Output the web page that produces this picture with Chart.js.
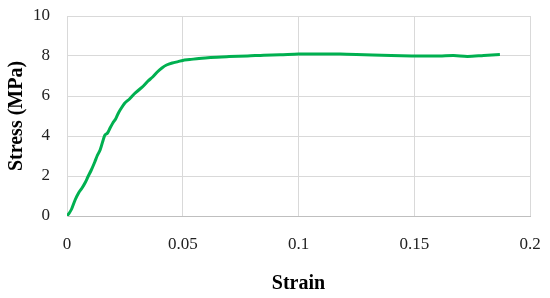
<!DOCTYPE html>
<html>
<head>
<meta charset="utf-8">
<script src="https://cdn.jsdelivr.net/npm/chart.js@4/dist/chart.umd.min.js"></script>
<style>
html,body{margin:0;padding:0;background:#fff;}
#wrap{width:550px;height:298px;}
</style>
</head>
<body>
<div id="wrap"><canvas id="c" width="550" height="298"></canvas></div>
<script>
const strain = [0, 0.001, 0.002, 0.0035, 0.005, 0.0065, 0.008, 0.009, 0.0105, 0.012, 0.013, 0.0143, 0.0155, 0.0164, 0.0175, 0.0186, 0.0198, 0.021, 0.022, 0.0232, 0.025, 0.027, 0.029, 0.031, 0.033, 0.035, 0.037, 0.039, 0.041, 0.043, 0.0455, 0.048, 0.05, 0.053, 0.057, 0.062, 0.07, 0.078, 0.085, 0.092, 0.1, 0.11, 0.118, 0.125, 0.132, 0.14, 0.149, 0.155, 0.161, 0.167, 0.173, 0.18, 0.187];
const stress = [0, 0.15, 0.35, 0.8, 1.15, 1.4, 1.7, 1.95, 2.3, 2.7, 3.0, 3.3, 3.75, 4.05, 4.15, 4.4, 4.65, 4.85, 5.1, 5.35, 5.65, 5.85, 6.1, 6.3, 6.5, 6.75, 6.95, 7.2, 7.4, 7.55, 7.65, 7.72, 7.78, 7.82, 7.88, 7.93, 7.97, 8.0, 8.04, 8.06, 8.1, 8.1, 8.1, 8.08, 8.05, 8.02, 8.0, 8.0, 8.0, 8.02, 7.98, 8.03, 8.08];
const xTitle = 'Strain';
const yTitle = 'Stress (MPa)';

const points = strain.map((x, i) => ({x: x, y: stress[i]}));
const tickFont = {family: "'Liberation Serif', serif", size: 17};
const titleFont = {family: "'Liberation Serif', serif", size: 20, weight: 'bold'};

new Chart(document.getElementById('c'), {
  type: 'scatter',
  data: {
    datasets: [{
      data: points,
      showLine: true,
      borderColor: 'rgb(0,176,80)',
      backgroundColor: 'rgb(0,176,80)',
      borderWidth: 3,
      pointRadius: 0,
      tension: 0.3
    }]
  },
  options: {
    responsive: false,
    animation: false,
    layout: {padding: {top: 16, right: 20, left: 0, bottom: 0}},
    plugins: {legend: {display: false}, tooltip: {enabled: false}},
    scales: {
      x: {
        type: 'linear',
        min: 0, max: 0.2,
        ticks: {stepSize: 0.05, font: tickFont, color: '#222', padding: 18,
          callback: v => String(Math.round(v * 100) / 100)},
        grid: {color: '#d9d9d9', lineWidth: 1, drawTicks: false},
        border: {color: '#bfbfbf', width: 1},
        title: {display: true, text: xTitle, font: titleFont, color: '#000', padding: {top: 0, bottom: 2}},
        afterFit: s => { s.height = 82; s.paddingLeft = 0; s.paddingRight = 0; }
      },
      y: {
        type: 'linear',
        min: 0, max: 10,
        ticks: {stepSize: 2, font: tickFont, color: '#222', padding: 17},
        grid: {color: '#d9d9d9', lineWidth: 1, drawTicks: false},
        border: {color: '#d9d9d9', width: 1},
        title: {display: true, text: yTitle, font: titleFont, color: '#000', padding: {top: 5, bottom: 0}},
        afterFit: s => { s.width = 67; s.paddingTop = 0; s.paddingBottom = 0; }
      }
    }
  }
});
</script>
</body>
</html>
